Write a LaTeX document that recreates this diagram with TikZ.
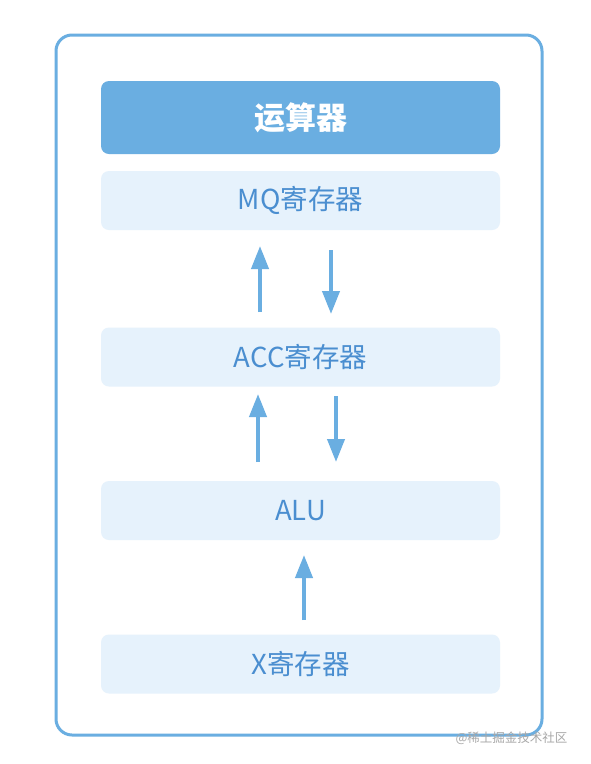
\documentclass[tikz,border=0pt]{standalone}
\usepackage{fontspec}
\setmainfont{Noto Sans CJK SC}
\newfontfamily\cjk{Noto Sans CJK SC}
\usetikzlibrary{arrows.meta}
\definecolor{frameblue}{HTML}{6AAEE1}
\definecolor{headblue}{HTML}{6AAEE1}
\definecolor{boxfill}{HTML}{E6F2FC}
\definecolor{textblue}{HTML}{4A8ED0}
\definecolor{wm}{HTML}{A8A8A8}
\tikzset{
  regbox/.style={fill=boxfill, rounded corners=8pt, minimum width=399pt, minimum height=59pt, inner sep=0pt, text=textblue, font=\cjk\fontsize{27.5}{27.5}\selectfont},
  headbox/.style={fill=headblue, rounded corners=8pt, minimum width=399pt, minimum height=73pt, inner sep=0pt, text=white, font=\cjk\bfseries\fontsize{31}{31}\selectfont},
  flow/.style={draw=frameblue, line width=4pt, -{Triangle[length=23pt,width=17pt]}}
}
\begin{document}
\begin{tikzpicture}[x=1pt,y=-1pt]
\useasboundingbox (0,0) rectangle (590,764);
\fill[white] (0,0) rectangle (590,764);
\draw[frameblue, line width=3pt, rounded corners=16pt] (56,35) rectangle (542,735);
\node[headbox] (head) at (300.5,117.5) {运算器};
\node[regbox] (mq) at (300.5,200.5) {MQ寄存器};
\node[regbox] (acc) at (300.5,357) {ACC寄存器};
\node[regbox] (alu) at (300.5,510.5) {ALU};
\node[regbox] (x) at (300.5,664) {X寄存器};
\coordinate (a1s) at (260,312); \coordinate (a1e) at (260,246);
\coordinate (a2s) at (331,250); \coordinate (a2e) at (331,314);
\coordinate (a3s) at (258,462); \coordinate (a3e) at (258,394);
\coordinate (a4s) at (336,396); \coordinate (a4e) at (336,462);
\coordinate (a5s) at (304,620); \coordinate (a5e) at (304,555);
\draw[flow] (a1s) -- (a1e);
\draw[flow] (a2s) -- (a2e);
\draw[flow] (a3s) -- (a3e);
\draw[flow] (a4s) -- (a4e);
\draw[flow] (a5s) -- (a5e);
\node[text=wm, font=\cjk\fontsize{12.5}{12.5}\selectfont, anchor=east] (wmk) at (571,738) {@稀土掘金技术社区};
\end{tikzpicture}
\end{document}
